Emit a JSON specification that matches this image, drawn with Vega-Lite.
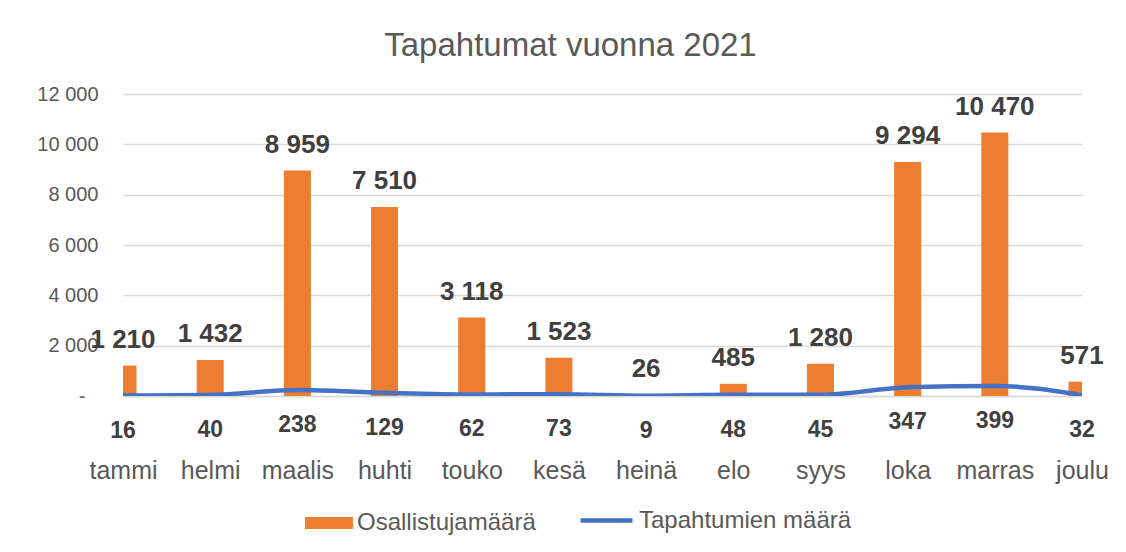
{
  "$schema": "https://vega.github.io/schema/vega-lite/v6.json",
  "autosize": {"type": "none"},
  "padding": {"left": 123, "top": 94, "right": 44, "bottom": 156},
  "width": 959,
  "height": 302,
  "background": "white",
  "title": {
    "text": "Tapahtumat vuonna 2021",
    "fontSize": 33,
    "fontWeight": "normal",
    "font": "Liberation Sans",
    "color": "#595959",
    "anchor": "middle",
    "dx": -32,
    "offset": 21
  },
  "data": {
    "values": [
      {"kk": "tammi", "osallistujat": 1210, "tapahtumat": 16},
      {"kk": "helmi", "osallistujat": 1432, "tapahtumat": 40},
      {"kk": "maalis", "osallistujat": 8959, "tapahtumat": 238},
      {"kk": "huhti", "osallistujat": 7510, "tapahtumat": 129},
      {"kk": "touko", "osallistujat": 3118, "tapahtumat": 62},
      {"kk": "kesä", "osallistujat": 1523, "tapahtumat": 73},
      {"kk": "heinä", "osallistujat": 26, "tapahtumat": 9},
      {"kk": "elo", "osallistujat": 485, "tapahtumat": 48},
      {"kk": "syys", "osallistujat": 1280, "tapahtumat": 45},
      {"kk": "loka", "osallistujat": 9294, "tapahtumat": 347},
      {"kk": "marras", "osallistujat": 10470, "tapahtumat": 399},
      {"kk": "joulu", "osallistujat": 571, "tapahtumat": 32}
    ]
  },
  "encoding": {
    "x": {
      "field": "kk",
      "type": "nominal",
      "sort": null,
      "scale": {"type": "point", "padding": 0},
      "axis": {
        "title": null,
        "labelAngle": 0,
        "labelFontSize": 25,
        "labelFont": "Liberation Sans",
        "labelColor": "#595959",
        "labelPadding": 62,
        "ticks": false,
        "domain": true,
        "domainColor": "#D9D9D9",
        "domainWidth": 1.5,
        "grid": false
      }
    }
  },
  "layer": [
    {
      "mark": {"type": "bar", "size": 27, "clip": true},
      "encoding": {
        "y": {
          "field": "osallistujat",
          "type": "quantitative",
          "scale": {"domain": [0, 12000], "nice": false},
          "axis": {
            "title": null,
            "values": [0, 2000, 4000, 6000, 8000, 10000, 12000],
            "format": ",d",
            "labelExpr": "datum.value === 0 ? '-' : datum.label",
            "labelFontSize": 20,
            "labelFont": "Liberation Sans",
            "labelColor": "#595959",
            "labelPadding": {"condition": {"test": "datum.value === 0", "value": 38}, "value": 25},
            "ticks": false,
            "domain": false,
            "grid": true,
            "gridColor": "#D9D9D9",
            "gridWidth": 1.5
          }
        },
        "fill": {
          "datum": "Osallistujamäärä",
          "scale": {"domain": ["Osallistujamäärä"], "range": ["#ED7D31"]},
          "legend": {
            "title": null,
            "orient": "none",
            "legendX": 182,
            "legendY": 405,
            "labelFontSize": 24,
            "labelFont": "Liberation Sans",
            "labelColor": "#595959",
            "labelLimit": 400,
            "labelOffset": 4,
            "symbolType": "M-1,-0.25H1V0.25H-1Z",
            "symbolSize": 2300,
            "symbolStrokeWidth": 0,
            "symbolOpacity": 1
          }
        }
      }
    },
    {
      "mark": {"type": "line", "strokeWidth": 4.5, "interpolate": "monotone", "strokeCap": "round", "clip": true},
      "encoding": {
        "y": {"field": "tapahtumat", "type": "quantitative"},
        "stroke": {
          "datum": "Tapahtumien määrä",
          "scale": {"domain": ["Tapahtumien määrä"], "range": ["#4472C4"]},
          "legend": {
            "title": null,
            "orient": "none",
            "legendX": 455,
            "legendY": 398,
            "labelFontSize": 24,
            "labelFont": "Liberation Sans",
            "labelColor": "#595959",
            "labelLimit": 400,
            "labelOffset": 4,
            "symbolType": "stroke",
            "symbolSize": 2700,
            "symbolStrokeWidth": 4.5,
            "symbolOpacity": 1
          }
        }
      }
    },
    {
      "mark": {"type": "text", "fontWeight": "bold", "fontSize": 26, "font": "Liberation Sans", "color": "#404040", "baseline": "middle", "dy": -26},
      "encoding": {
        "y": {"field": "osallistujat", "type": "quantitative"},
        "text": {"field": "osallistujat", "type": "quantitative", "format": ",d"}
      }
    },
    {
      "mark": {"type": "text", "fontWeight": "bold", "fontSize": 23, "font": "Liberation Sans", "color": "#404040", "baseline": "middle", "dy": 35},
      "encoding": {
        "y": {"field": "tapahtumat", "type": "quantitative"},
        "text": {"field": "tapahtumat", "type": "quantitative", "format": ",d"}
      }
    }
  ],
  "config": {
    "locale": {
      "number": {"decimal": ",", "thousands": " ", "grouping": [3], "currency": ["", " €"]}
    },
    "view": {"stroke": null}
  }
}
